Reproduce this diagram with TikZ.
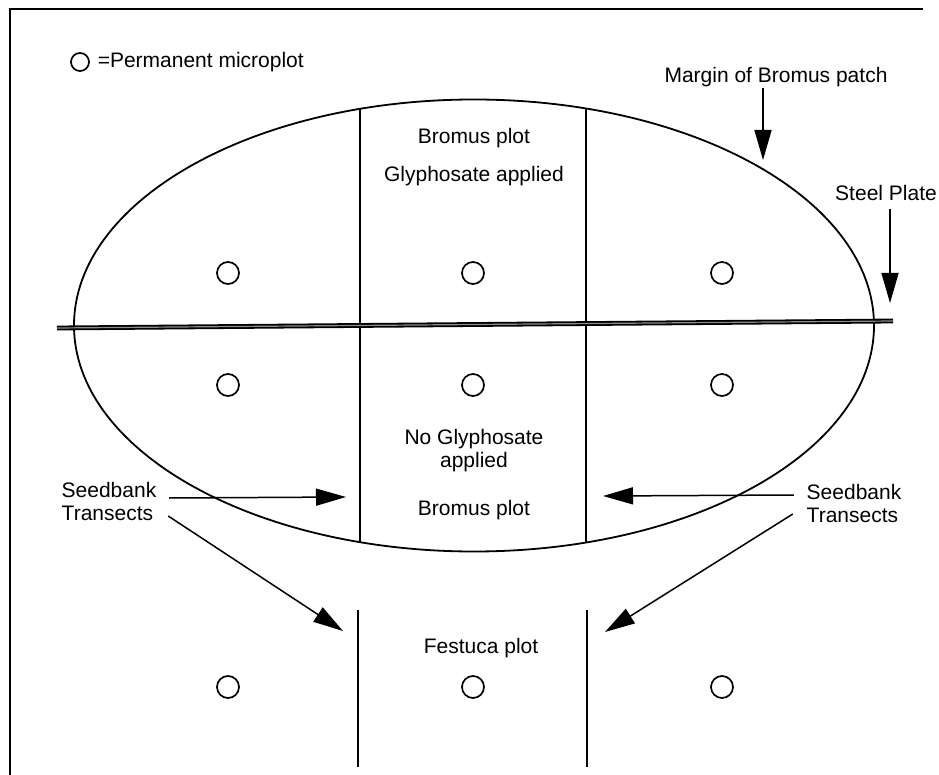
\documentclass[tikz,border=0pt]{standalone}
\usepackage{fontspec}
\setmainfont{Liberation Sans}
\usetikzlibrary{arrows.meta, positioning}

\begin{document}
\begin{tikzpicture}[x=1pt,y=-1pt,line width=1.8pt,>={Triangle[length=30pt,width=17pt]}]
    \tikzstyle{every node}=[font=\fontsize{21}{23}\selectfont]
    \tikzstyle{microplot}=[circle,draw,line width=1.7pt,minimum size=22pt,inner sep=0pt]
    \tikzstyle{tag}=[inner sep=0pt, align=center]
    \tikzstyle{pointer}=[->,line width=1.5pt]
    \tikzstyle{plate}=[double=black!45, line width=1.8pt, double distance=1.2pt]

    \useasboundingbox (0,0) rectangle (939,775);
    \draw[line width=2.5pt] (10,775) -- (10,9) -- (923,9);

%    legend
    \node[microplot, minimum size=18pt] (key) at (80,62) {};
    \node[tag, right=7pt of key] (keytext) {=Permanent microplot};

    % patch, plots and plate
    \draw (474,325.5) ellipse [x radius=400pt, y radius=226pt];
    \draw (360,109) -- (360,542);
    \draw (586,108.5) -- (586,542.5);
    \draw (358,610) -- (358,767);
    \draw (587,610) -- (587,767);
    \draw[plate] (57,328) -- (893,321);

	\foreach \c/\x in {a/228,b/473,c/722}{
		\foreach \r/\y in {1/273,2/385,3/687}{
			\node[microplot] (M-\c\r) at (\x,\y) {};
		}
	}

    \node[tag] (bromusA) at (474,138) {Bromus plot};
    \node[tag] (glyA) at (474,176) {Glyphosate applied};
    \node[tag] (glyB) at (474,451) {No Glyphosate\\applied};
    \node[tag] (bromusB) at (474,510) {Bromus plot};
    \node[tag] (festuca) at (481,648) {Festuca plot};
    \node[tag] (margin) at (776,77) {Margin of Bromus patch};
    \node[tag] (steel) at (886,193) {Steel Plate};
    \node[tag, align=left] (seedL) at (109,501) {Seedbank\\Transects};
    \node[tag, align=left] (seedR) at (854,503) {Seedbank\\Transects};

    \coordinate (tipL1) at (346,497);
    \coordinate (tipL2) at (343,631);
    \coordinate (tipR1) at (603,496);
    \coordinate (tipR2) at (605,632);
    \coordinate (tipM) at (763,160);
    \coordinate (tipS) at (890,303);

	\draw[pointer] (seedL.east) ++(12,-3) -- (tipL1);
	\draw[pointer] (seedL.east) ++(11,15) -- (tipL2);
	\draw[pointer] (seedR.west) ++(-12,-8) -- (tipR1);
	\draw[pointer] (seedR.west) ++(-13,11) -- (tipR2);
	\draw[pointer] (margin.south) ++(-13,0) -- (tipM);
	\draw[pointer] (steel.south) ++(4,7) -- (tipS);
\end{tikzpicture}
\end{document}
